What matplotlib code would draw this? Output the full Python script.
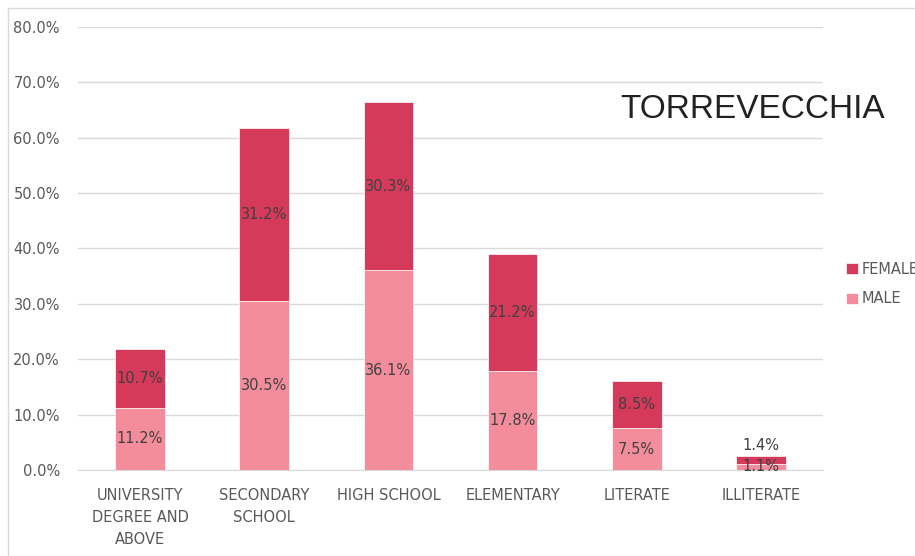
import matplotlib
matplotlib.use('Agg')
from matplotlib import pyplot as plt
from matplotlib.ticker import FuncFormatter
from matplotlib.lines import Line2D

categories = ['UNIVERSITY\nDEGREE AND\nABOVE', 'SECONDARY\nSCHOOL', 'HIGH SCHOOL',
              'ELEMENTARY', 'LITERATE', 'ILLITERATE']
male = [11.2, 30.5, 36.1, 17.8, 7.5, 1.1]
female = [10.7, 31.2, 30.3, 21.2, 8.5, 1.4]
y_ticks = [0, 10, 20, 30, 40, 50, 60, 70, 80]

male_color = '#F48D9B'
female_color = '#D53A5A'
text_color = '#595959'
label_color = '#404040'

fig = plt.figure(figsize=(9.15, 5.56), dpi=100)
ax = fig.add_axes([78 / 915, 1 - 470 / 556, 745 / 915, 443 / 556])

x = list(range(len(categories)))
b_male = ax.bar(x, male, width=0.4, color=male_color, edgecolor='white', linewidth=0.5, label='MALE', zorder=3)
b_female = ax.bar(x, female, width=0.4, bottom=male, color=female_color, edgecolor='white', linewidth=0.5,
                  label='FEMALE', zorder=3)

# data labels
for i in x:
    ax.text(i, male[i] / 2, f'{male[i]:.1f}%', ha='center', va='center', fontsize=10.5,
            color=label_color, zorder=4)
    if female[i] < 3:
        ax.text(i, male[i] + female[i] + 0.6, f'{female[i]:.1f}%', ha='center', va='bottom',
                fontsize=10.5, color=label_color, zorder=4)
    else:
        ax.text(i, male[i] + female[i] / 2, f'{female[i]:.1f}%', ha='center', va='center',
                fontsize=10.5, color=label_color, zorder=4)

ax.set_xlim(-0.5, len(categories) - 0.5)
ax.set_ylim(0, 80)
ax.set_yticks(y_ticks)
ax.yaxis.set_major_formatter(FuncFormatter(lambda v, p: f'{v:.1f}%'))
ax.set_xticks(x)
ax.set_xticklabels(categories, fontsize=10.5, color=text_color, linespacing=1.6, va='top')
ax.tick_params(axis='y', labelsize=10.5, labelcolor=text_color, length=0, pad=13)
ax.tick_params(axis='x', length=0, pad=13)
ax.grid(axis='y', color='#D9D9D9', linewidth=1, zorder=0)
for s in ['top', 'right', 'left']:
    ax.spines[s].set_visible(False)
ax.spines['bottom'].set_color('#D9D9D9')

ax.text(620 / 915, 1 - 110 / 556, 'TORREVECCHIA', transform=fig.transFigure, fontsize=24,
        color='#222222', ha='left', va='center', family='Liberation Sans')

handles = [b_female, b_male]
fig.legend(handles, ['FEMALE', 'MALE'], loc='upper left', bbox_to_anchor=(840 / 915, 1 - 256 / 556),
           frameon=False, fontsize=10.5, labelcolor=text_color, handlelength=0.8, handleheight=0.8,
           handletextpad=0.3, labelspacing=1.0, borderaxespad=0)

# outer border of the chart area
fig.add_artist(Line2D([8 / 915, 1], [1 - 8 / 556, 1 - 8 / 556], transform=fig.transFigure, color='#D9D9D9', lw=1))
fig.add_artist(Line2D([8 / 915, 8 / 915], [0, 1 - 8 / 556], transform=fig.transFigure, color='#D9D9D9', lw=1))

fig.savefig('out.png', dpi=100)
